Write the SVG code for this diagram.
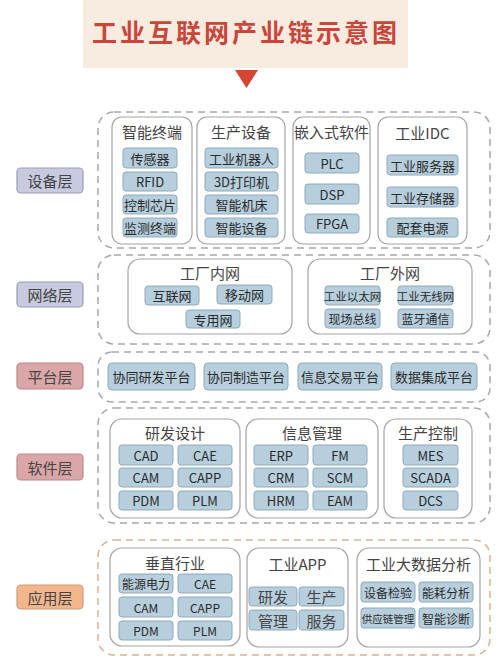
<svg xmlns="http://www.w3.org/2000/svg" width="503" height="661" viewBox="0 0 503 661">
<style>
text{font-family:"Noto Sans CJK SC","Liberation Sans",sans-serif;text-anchor:middle;dominant-baseline:central}
.lay{stroke-width:1.2}
.grp{fill:none;stroke:#a8a8a8;stroke-width:1.5;stroke-dasharray:7 5}
.grpo{fill:none;stroke:#dcb28e;stroke-width:1.5;stroke-dasharray:7 5}
.box{fill:#fff;stroke:#a3a3a3;stroke-width:1.2}
.it{fill:#b7cfdd;stroke:#8eaabd;stroke-width:1}
.t{font-size:13px;fill:#2a2a2a}
.bt{font-size:15px;fill:#444}
.lt{font-size:15px;fill:#444}
</style>
<rect x="0" y="0" width="503" height="661" fill="#fff"/>
<g id="title">
<rect x="83" y="0" width="325" height="68" fill="#f8ece1"/>
<text x="246" y="31" style="font-size:25px;fill:#c8463a;font-weight:bold;letter-spacing:3px">工业互联网产业链示意图</text>
<polygon points="235,70 258,70 246.5,88" fill="#d64533"/>
</g>

<!-- Device layer -->
<g id="layer-device">
<rect x="17" y="168" width="66" height="25" rx="4" fill="#c8cadf" stroke="#9a9cb8" class="lay"/>
<text x="50" y="180.5" class="lt">设备层</text>
<rect x="98" y="112" width="392" height="136" rx="16" class="grp"/>
</g>
<g id="smart-terminal">
<rect x="112" y="117" width="80" height="127" rx="10" class="box"/>
<text x="152" y="131" class="bt">智能终端</text>
<rect x="123" y="148" width="54" height="20" rx="3" class="it"/><text x="150" y="158" class="t">传感器</text>
<rect x="123" y="172" width="54" height="19" rx="3" class="it"/><text x="150" y="181.5" class="t">RFID</text>
<rect x="123" y="195" width="54" height="19" rx="3" class="it"/><text x="150" y="204.5" class="t">控制芯片</text>
<rect x="123" y="218" width="54" height="19" rx="3" class="it"/><text x="150" y="227.5" class="t">监测终端</text>
</g>
<g id="production-equipment">
<rect x="197" y="117" width="88" height="127" rx="10" class="box"/>
<text x="241" y="131" class="bt">生产设备</text>
<rect x="205" y="148" width="73" height="20" rx="3" class="it"/><text x="241.5" y="158" class="t">工业机器人</text>
<rect x="205" y="172" width="73" height="19" rx="3" class="it"/><text x="241.5" y="181.5" class="t">3D打印机</text>
<rect x="205" y="195" width="73" height="19" rx="3" class="it"/><text x="241.5" y="204.5" class="t">智能机床</text>
<rect x="205" y="218" width="73" height="19" rx="3" class="it"/><text x="241.5" y="227.5" class="t">智能设备</text>
</g>
<g id="embedded-software">
<rect x="293" y="117" width="77" height="127" rx="10" class="box"/>
<text x="331.5" y="131" class="bt">嵌入式软件</text>
<rect x="305" y="153" width="54" height="20" rx="3" class="it"/><text x="332" y="163" class="t">PLC</text>
<rect x="305" y="184" width="54" height="20" rx="3" class="it"/><text x="332" y="194" class="t">DSP</text>
<rect x="305" y="214" width="54" height="19" rx="3" class="it"/><text x="332" y="223.5" class="t">FPGA</text>
</g>
<g id="industrial-idc">
<rect x="378" y="117" width="89" height="127" rx="10" class="box"/>
<text x="422.5" y="132" class="bt">工业IDC</text>
<rect x="387" y="155" width="71" height="20" rx="3" class="it"/><text x="422.5" y="165" class="t">工业服务器</text>
<rect x="387" y="187" width="71" height="20" rx="3" class="it"/><text x="422.5" y="197" class="t">工业存储器</text>
<rect x="387" y="218" width="71" height="19" rx="3" class="it"/><text x="422.5" y="227.5" class="t">配套电源</text>
</g>

<!-- Network layer -->
<g id="layer-network">
<rect x="17" y="282" width="66" height="25" rx="4" fill="#c8cadf" stroke="#9a9cb8" class="lay"/>
<text x="50" y="294.5" class="lt">网络层</text>
<rect x="98" y="255" width="392" height="89" rx="16" class="grp"/>
</g>
<g id="factory-intranet">
<rect x="128" y="259" width="164" height="75" rx="12" class="box"/>
<text x="210" y="272" class="bt">工厂内网</text>
<rect x="145" y="286" width="54" height="19" rx="3" class="it"/><text x="172" y="295.5" class="t">互联网</text>
<rect x="217" y="285" width="55" height="19" rx="3" class="it"/><text x="244.5" y="294.5" class="t">移动网</text>
<rect x="186" y="310" width="54" height="18" rx="3" class="it"/><text x="213" y="319" class="t">专用网</text>
</g>
<g id="factory-extranet">
<rect x="308" y="259" width="164" height="75" rx="12" class="box"/>
<text x="390" y="272" class="bt">工厂外网</text>
<rect x="325" y="286" width="55" height="19" rx="3" class="it"/><text x="352.5" y="295.5" class="t" style="font-size:11.5px">工业以太网</text>
<rect x="398" y="286" width="55" height="19" rx="3" class="it"/><text x="425.5" y="295.5" class="t" style="font-size:11.5px">工业无线网</text>
<rect x="325" y="309" width="55" height="19" rx="3" class="it"/><text x="352.5" y="318.5" class="t" style="font-size:12px">现场总线</text>
<rect x="398" y="309" width="55" height="19" rx="3" class="it"/><text x="425.5" y="318.5" class="t" style="font-size:12px">蓝牙通信</text>
</g>

<!-- Platform layer -->
<g id="layer-platform">
<rect x="17" y="363" width="66" height="26" rx="4" fill="#dba6a7" stroke="#b98889" class="lay"/>
<text x="50" y="376" class="lt">平台层</text>
<rect x="98" y="352" width="392" height="50" rx="14" class="grp"/>
</g>
<g id="platforms">
<rect x="108" y="363" width="87" height="27" rx="4" class="it"/><text x="151.5" y="376.5" class="t">协同研发平台</text>
<rect x="204" y="363" width="84" height="27" rx="4" class="it"/><text x="246" y="376.5" class="t">协同制造平台</text>
<rect x="298" y="363" width="84" height="27" rx="4" class="it"/><text x="340" y="376.5" class="t">信息交易平台</text>
<rect x="391" y="363" width="86" height="27" rx="4" class="it"/><text x="434" y="376.5" class="t">数据集成平台</text>
</g>

<!-- Software layer -->
<g id="layer-software">
<rect x="17" y="454" width="66" height="26" rx="4" fill="#dba6a7" stroke="#b98889" class="lay"/>
<text x="50" y="467" class="lt">软件层</text>
<rect x="98" y="408" width="392" height="115" rx="16" class="grp"/>
</g>
<g id="rd-design">
<rect x="110" y="419" width="130" height="99" rx="12" class="box"/>
<text x="175" y="432" class="bt">研发设计</text>
<rect x="119" y="445" width="54" height="20" rx="3" class="it"/><text x="146" y="455" class="t">CAD</text>
<rect x="178" y="445" width="54" height="20" rx="3" class="it"/><text x="205" y="455" class="t">CAE</text>
<rect x="119" y="468" width="54" height="19" rx="3" class="it"/><text x="146" y="477.5" class="t">CAM</text>
<rect x="178" y="468" width="54" height="19" rx="3" class="it"/><text x="205" y="477.5" class="t">CAPP</text>
<rect x="119" y="491" width="54" height="19" rx="3" class="it"/><text x="146" y="500.5" class="t">PDM</text>
<rect x="178" y="491" width="54" height="19" rx="3" class="it"/><text x="205" y="500.5" class="t">PLM</text>
</g>
<g id="info-management">
<rect x="246" y="419" width="132" height="99" rx="12" class="box"/>
<text x="312" y="432" class="bt">信息管理</text>
<rect x="254" y="445" width="54" height="20" rx="3" class="it"/><text x="281" y="455" class="t">ERP</text>
<rect x="313" y="445" width="54" height="20" rx="3" class="it"/><text x="340" y="455" class="t">FM</text>
<rect x="254" y="468" width="54" height="19" rx="3" class="it"/><text x="281" y="477.5" class="t">CRM</text>
<rect x="313" y="468" width="54" height="19" rx="3" class="it"/><text x="340" y="477.5" class="t">SCM</text>
<rect x="254" y="491" width="54" height="19" rx="3" class="it"/><text x="281" y="500.5" class="t">HRM</text>
<rect x="313" y="491" width="54" height="19" rx="3" class="it"/><text x="340" y="500.5" class="t">EAM</text>
</g>
<g id="production-control">
<rect x="384" y="419" width="88" height="99" rx="12" class="box"/>
<text x="428" y="432" class="bt">生产控制</text>
<rect x="403" y="445" width="55" height="20" rx="3" class="it"/><text x="430.5" y="455" class="t">MES</text>
<rect x="403" y="468" width="55" height="19" rx="3" class="it"/><text x="430.5" y="477.5" class="t">SCADA</text>
<rect x="403" y="491" width="55" height="19" rx="3" class="it"/><text x="430.5" y="500.5" class="t">DCS</text>
</g>

<!-- Application layer -->
<g id="layer-application">
<rect x="17" y="585" width="66" height="24" rx="4" fill="#f2b58c" stroke="#d49a72" class="lay"/>
<text x="50" y="597" class="lt">应用层</text>
<rect x="98" y="540" width="392" height="115" rx="16" class="grpo"/>
</g>
<g id="vertical-industry">
<rect x="110" y="548" width="130" height="98" rx="12" class="box"/>
<text x="175" y="562" class="bt">垂直行业</text>
<rect x="119" y="574" width="54" height="19" rx="3" class="it"/><text x="146" y="583.5" class="t" style="font-size:12px">能源电力</text>
<rect x="178" y="574" width="54" height="19" rx="3" class="it"/><text x="205" y="583.5" class="t" style="font-size:12px">CAE</text>
<rect x="119" y="597" width="54" height="20" rx="3" class="it"/><text x="146" y="607" class="t" style="font-size:12px">CAM</text>
<rect x="178" y="597" width="54" height="20" rx="3" class="it"/><text x="205" y="607" class="t" style="font-size:12px">CAPP</text>
<rect x="119" y="621" width="54" height="19" rx="3" class="it"/><text x="146" y="630.5" class="t" style="font-size:12px">PDM</text>
<rect x="178" y="621" width="54" height="19" rx="3" class="it"/><text x="205" y="630.5" class="t" style="font-size:12px">PLM</text>
</g>
<g id="industrial-app">
<rect x="247" y="548" width="101" height="99" rx="12" class="box"/>
<text x="297.5" y="563" class="bt">工业APP</text>
<rect x="249" y="587" width="48" height="19" rx="3" class="it"/><text x="273" y="596.5" class="bt">研发</text>
<rect x="299" y="587" width="45" height="19" rx="3" class="it"/><text x="321.5" y="596.5" class="bt">生产</text>
<rect x="249" y="610" width="48" height="20" rx="3" class="it"/><text x="273" y="620" class="bt">管理</text>
<rect x="299" y="610" width="45" height="20" rx="3" class="it"/><text x="321.5" y="620" class="bt">服务</text>
</g>
<g id="big-data">
<rect x="357" y="548" width="123" height="99" rx="12" class="box"/>
<text x="418.5" y="563" class="bt">工业大数据分析</text>
<rect x="361" y="582" width="54" height="20" rx="3" class="it"/><text x="388" y="592" class="t" style="font-size:12px">设备检验</text>
<rect x="419" y="582" width="54" height="20" rx="3" class="it"/><text x="446" y="592" class="t" style="font-size:12px">能耗分析</text>
<rect x="361" y="608" width="54" height="20" rx="3" class="it"/><text x="388" y="618" class="t" style="font-size:10.5px">供应链管理</text>
<rect x="419" y="608" width="54" height="20" rx="3" class="it"/><text x="446" y="618" class="t" style="font-size:12px">智能诊断</text>
</g>
<g id="connectors"/>
</svg>
